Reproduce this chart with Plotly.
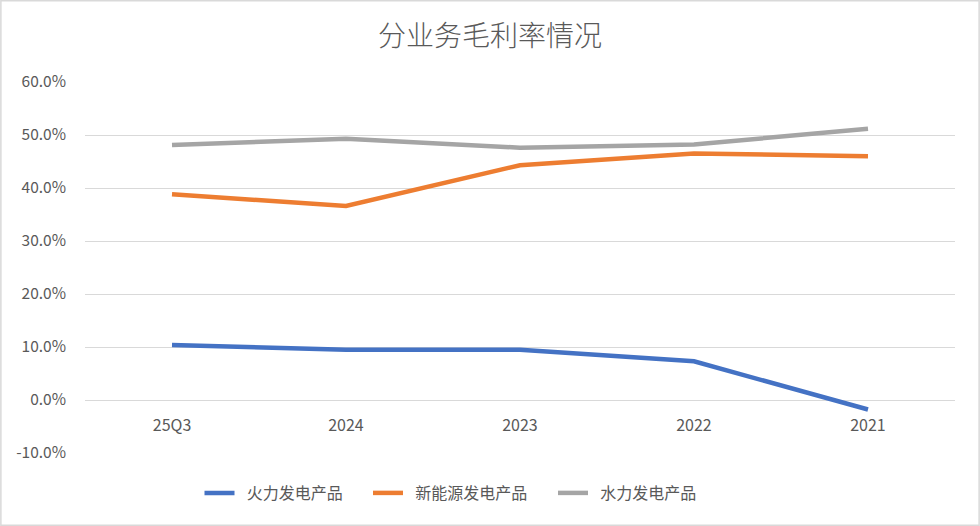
import plotly.graph_objects as go

categories = ["25Q3", "2024", "2023", "2022", "2021"]
thermal = [10.4, 9.5, 9.5, 7.3, -1.8]
new_energy = [38.8, 36.6, 44.3, 46.5, 46.0]
hydro = [48.1, 49.3, 47.6, 48.2, 51.2]
series_names = ["火力发电产品", "新能源发电产品", "水力发电产品"]
colors = ["#4472C4", "#ED7D31", "#A5A5A5"]
y_ticks = [-10, 0, 10, 20, 30, 40, 50, 60]
y_tick_labels = ["-10.0%", "0.0%", "10.0%", "20.0%", "30.0%", "40.0%", "50.0%", "60.0%"]

W, H = 980, 526
ml, mr, mt, mb = 85, 25, 82, 73
pw, ph = W - ml - mr, H - mt - mb

legend_px = [199.5, 368, 553]  # left edge of each legend box, in pixels
legend_ids = ["legend", "legend2", "legend3"]
pad = "\u00a0\u00a0"

fig = go.Figure()
for name, vals, c, lg in zip(series_names, [thermal, new_energy, hydro], colors, legend_ids):
    fig.add_trace(go.Scatter(x=categories, y=vals, name=pad + name, mode="lines",
                             line=dict(color=c, width=4.5), legend=lg))

font_family = "Noto Sans CJK SC, Noto Sans, sans-serif"
layout_legends = {}
for lg, px in zip(legend_ids, legend_px):
    layout_legends[lg] = dict(orientation="h", x=(px - ml) / pw, xanchor="left",
                              y=-40 / ph, yanchor="middle",
                              font=dict(size=16, color="#595959", family=font_family),
                              bgcolor="rgba(0,0,0,0)")

fig.update_layout(
    width=W, height=H,
    margin=dict(l=ml, r=mr, t=mt, b=mb),
    paper_bgcolor="white", plot_bgcolor="white",
    font=dict(family=font_family, color="#595959", size=14),
    title=dict(text="分业务毛利率情况", x=0.5, xanchor="center",
               y=1 - 36 / H, yanchor="middle",
               font=dict(size=28, color="#595959", family=font_family, weight=300)),
    xaxis=dict(type="category", showgrid=False, zeroline=False, showline=False,
               anchor="free", position=1 / 7, ticks="", ticklabelstandoff=14,
               tickfont=dict(size=16, color="#595959"), range=[-0.5, 4.5]),
    yaxis=dict(range=[-10, 60], tickvals=y_ticks, ticktext=y_tick_labels,
               showgrid=True, gridcolor="#D9D9D9", gridwidth=1.3,
               zeroline=False, showline=False, ticks="", ticklabelstandoff=18,
               tickfont=dict(size=15.5, color="#595959")),
    showlegend=True,
    **layout_legends,
)
fig.add_shape(type="rect", xref="paper", yref="paper",
              x0=-ml / pw + 0.001, x1=1 + mr / pw - 0.001,
              y0=-mb / ph + 0.002, y1=1 + mt / ph - 0.002,
              line=dict(color="#D9D9D9", width=1.5), fillcolor="rgba(0,0,0,0)", layer="below")
fig.write_html("out.html", config={"displayModeBar": False})

with open("out.html", encoding="utf-8") as f:
    html = f.read()
html = html.replace("<head>", "<head><style>html,body{margin:0;padding:0;overflow:hidden;}</style>", 1)
with open("out.html", "w", encoding="utf-8") as f:
    f.write(html)
